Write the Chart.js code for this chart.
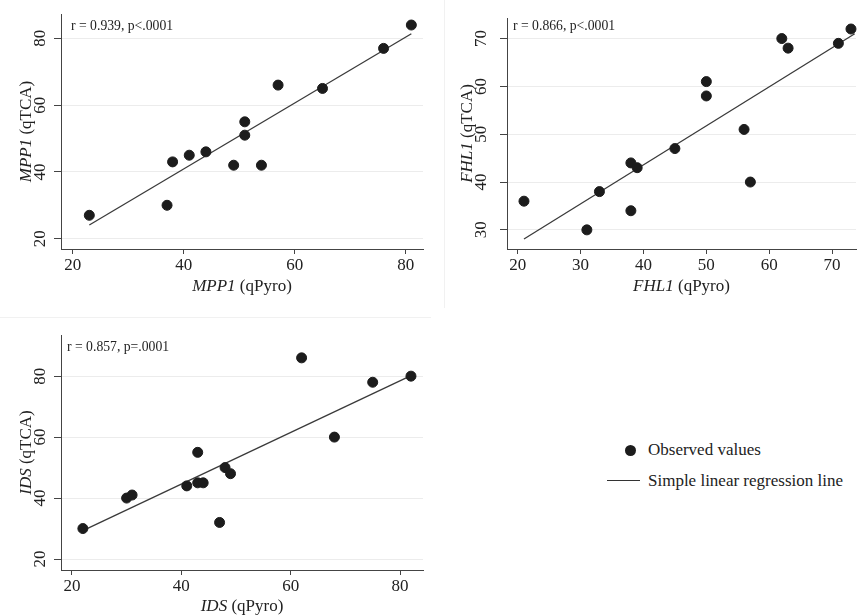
<!DOCTYPE html>
<html>
<head>
<meta charset="utf-8">
<script src="https://cdn.jsdelivr.net/npm/chart.js@4.4.1/dist/chart.umd.min.js"></script>
<style>
  body { margin: 0; background: #fff; }
  #wrap { position: relative; width: 862px; height: 616px; font-family: 'Liberation Serif', 'Times New Roman', serif; color: #222; overflow: hidden; }
  canvas { position: absolute; }
  .sep { position: absolute; background: #f1f1f1; }
  .legend-dot { position: absolute; width: 11px; height: 11px; border-radius: 50%; background: #1c1c1c; }
  .legend-line { position: absolute; height: 1px; background: #333; }
  .legend-text { position: absolute; font-size: 17px; line-height: 20px; white-space: nowrap; }
</style>
</head>
<body>
<div id="wrap">
  <div class="sep" style="left:0; top:317px; width:431px; height:1px"></div>
  <div class="sep" style="left:444px; top:0; width:1px; height:308px"></div>
  <canvas id="mpp1" width="431" height="308" style="left:0; top:0"></canvas>
  <canvas id="fhl1" width="431" height="308" style="left:431px; top:0"></canvas>
  <canvas id="ids" width="431" height="308" style="left:0; top:308px"></canvas>

  <div class="legend-dot" style="left:625px; top:445px"></div>
  <div class="legend-text" style="left:648px; top:440px">Observed values</div>
  <div class="legend-line" style="left:607px; top:480px; width:33px"></div>
  <div class="legend-text" style="left:648px; top:471px">Simple linear regression line</div>
</div>

<script>
// MPP1
const mpp1Pyro = [23, 37, 38, 41, 44, 49, 51, 51, 54, 57, 65, 76, 81];
const mpp1Tca  = [27, 30, 43, 45, 46, 42, 55, 51, 42, 66, 65, 77, 84];
const mpp1FitX = [23, 81];
const mpp1FitY = [24.1, 81.4];

// FHL1
const fhl1Pyro = [21, 31, 33, 38, 38, 39, 45, 50, 50, 56, 57, 62, 63, 71, 73];
const fhl1Tca  = [36, 30, 38, 44, 34, 43, 47, 61, 58, 51, 40, 70, 68, 69, 72];
const fhl1FitX = [21, 73.6];
const fhl1FitY = [28.1, 71];

// IDS
const idsPyro = [22, 30, 31, 41, 43, 43, 44, 47, 48, 49, 62, 68, 75, 82];
const idsTca  = [30, 40, 41, 44, 55, 45, 45, 32, 50, 48, 86, 60, 78, 80];
const idsFitX = [22, 82];
const idsFitY = [29.3, 80.2];

const ticks20to80 = [20, 40, 60, 80];
const ticks20to70 = [20, 30, 40, 50, 60, 70];
const ticks30to70 = [30, 40, 50, 60, 70];

const FONT = "'Liberation Serif', 'Times New Roman', serif";

function drawMixed(ctx, ital, plain, cx, cy) {
  ctx.font = 'italic 17px ' + FONT;
  const w1 = ctx.measureText(ital).width;
  ctx.font = '17px ' + FONT;
  const w2 = ctx.measureText(plain).width;
  const x = cx - (w1 + w2) / 2;
  ctx.textAlign = 'left';
  ctx.textBaseline = 'middle';
  ctx.font = 'italic 17px ' + FONT;
  ctx.fillText(ital, x, cy);
  ctx.font = '17px ' + FONT;
  ctx.fillText(plain, x + w1, cy);
}

// stat note + axis titles (gene name in italics)
const panelText = {
  id: 'panelText',
  afterDraw(chart, args, opts) {
    const { ctx, chartArea: a } = chart;
    ctx.save();
    ctx.fillStyle = '#222';
    ctx.font = '13.7px ' + FONT;
    ctx.textAlign = 'left';
    ctx.textBaseline = 'middle';
    ctx.fillText(opts.note, opts.noteX, opts.noteY);
    drawMixed(ctx, opts.gene, ' (qPyro)', (a.left + a.right) / 2, opts.xTitleY);
    ctx.translate(opts.yTitleX, (a.top + a.bottom) / 2);
    ctx.rotate(-Math.PI / 2);
    drawMixed(ctx, opts.gene, ' (qTCA)', 0, 0);
    ctx.restore();
  }
};

function toPoints(xs, ys) {
  return xs.map((x, i) => ({ x: x, y: ys[i] }));
}

function makePanel(id, p) {
  return new Chart(document.getElementById(id), {
    type: 'scatter',
    data: {
      datasets: [{
        label: 'Observed values',
        data: toPoints(p.xs, p.ys),
        backgroundColor: '#1c1c1c',
        borderColor: '#1c1c1c',
        pointRadius: 5,
        clip: false
      }, {
        type: 'line',
        label: 'Simple linear regression line',
        data: toPoints(p.fitX, p.fitY),
        borderColor: '#3a3a3a',
        borderWidth: 1.3,
        pointRadius: 0,
        fill: false,
        clip: false
      }]
    },
    options: {
      responsive: false,
      animation: false,
      events: [],
      layout: { padding: { left: 0, top: p.top, right: p.right, bottom: 0 } },
      plugins: {
        legend: { display: false },
        tooltip: { enabled: false },
        panelText: p.text
      },
      scales: {
        x: {
          type: 'linear',
          min: p.xMin, max: p.xMax,
          afterBuildTicks: s => { s.ticks = p.xTicks.map(v => ({ value: v })); },
          afterFit: s => { s.height = p.xAxisH; },
          grid: { drawOnChartArea: false, tickLength: 5, tickColor: '#444' },
          border: { color: '#444', width: 1 },
          ticks: { color: '#222', padding: 3.5, maxRotation: 0, font: { family: FONT, size: 17, lineHeight: 1 } }
        },
        y: {
          type: 'linear',
          min: p.yMin, max: p.yMax,
          afterBuildTicks: s => { s.ticks = p.yTicks.map(v => ({ value: v })); },
          afterFit: s => { s.width = p.yAxisW; },
          grid: { color: '#ececec', tickLength: 7, tickColor: '#444' },
          border: { color: '#444', width: 1 },
          ticks: { color: '#222', padding: p.yTickPad, minRotation: 90, maxRotation: 90, crossAlign: 'center', font: { family: FONT, size: 17, lineHeight: 1 } }
        }
      }
    },
    plugins: [panelText]
  });
}

makePanel('mpp1', {
  xs: mpp1Pyro, ys: mpp1Tca, fitX: mpp1FitX, fitY: mpp1FitY,
  xMin: 17.9, xMax: 83.1, yMin: 16.9, yMax: 87.3,
  xTicks: ticks20to80, yTicks: ticks20to80,
  top: 14, right: 8, xAxisH: 59, yAxisW: 61, yTickPad: 4.5,
  text: { gene: 'MPP1', note: 'r = 0.939, p<.0001', noteX: 71, noteY: 26, xTitleY: 287, yTitleX: 27 }
});

makePanel('fhl1', {
  xs: fhl1Pyro, ys: fhl1Tca, fitX: fhl1FitX, fitY: fhl1FitY,
  xMin: 18.3, xMax: 73.8, yMin: 26.0, yMax: 74.3,
  xTicks: ticks20to70, yTicks: ticks30to70,
  top: 14, right: 0, xAxisH: 59, yAxisW: 76, yTickPad: 9.5,
  text: { gene: 'FHL1', note: 'r = 0.866, p<.0001', noteX: 82, noteY: 26, xTitleY: 287, yTitleX: 37 }
});

makePanel('ids', {
  xs: idsPyro, ys: idsTca, fitX: idsFitX, fitY: idsFitY,
  xMin: 18.0, xMax: 84.2, yMin: 16.4, yMax: 93.5,
  xTicks: ticks20to80, yTicks: ticks20to80,
  top: 27, right: 8, xAxisH: 46, yAxisW: 61, yTickPad: 4.5,
  text: { gene: 'IDS', note: 'r = 0.857, p=.0001', noteX: 67, noteY: 39, xTitleY: 299, yTitleX: 27 }
});
</script>
</body>
</html>
